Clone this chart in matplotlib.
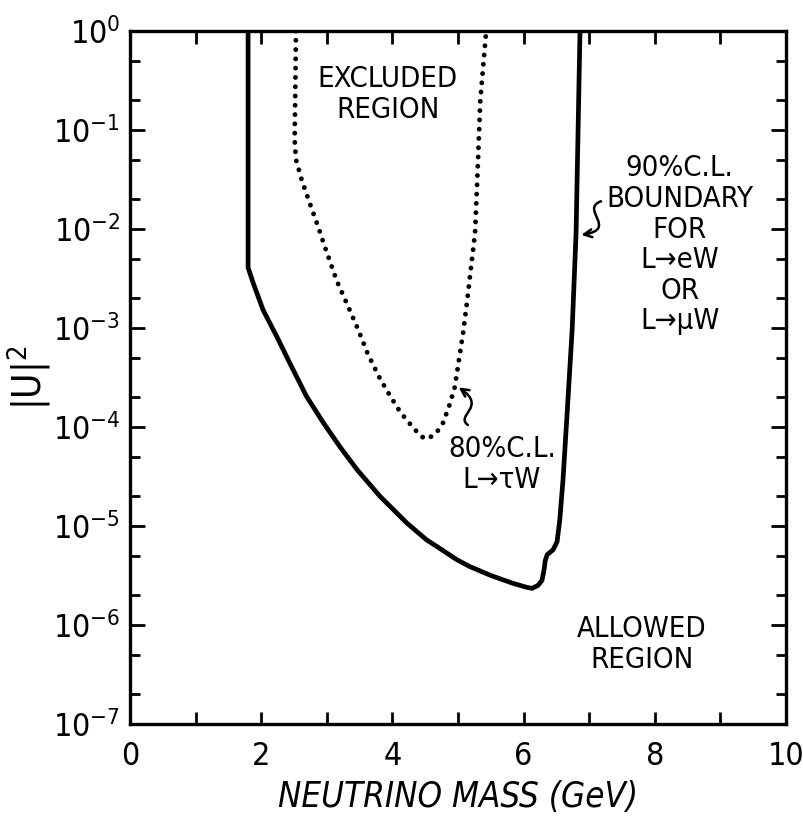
import numpy as np
import matplotlib
matplotlib.use("Agg")
import matplotlib.pyplot as plt
from matplotlib.path import Path
from matplotlib.patches import FancyArrowPatch

plt.rcParams['font.family'] = ['DejaVu Sans']
plt.rcParams['font.stretch'] = 'condensed'
plt.rcParams['mathtext.fontset'] = 'custom'
plt.rcParams['mathtext.rm'] = 'DejaVu Sans:stretch=condensed'
plt.rcParams['mathtext.it'] = 'DejaVu Sans:stretch=condensed'

# 90% C.L. boundary (L -> eW or L -> muW), log10 |U|^2
mass_90 = [1.80, 1.80, 1.88, 2.03, 2.24, 2.44, 2.69, 2.95, 3.20, 3.46, 3.81, 4.22,
           4.52, 4.73, 4.98, 5.18, 5.50, 5.84, 6.05, 6.13, 6.22, 6.28, 6.31, 6.33,
           6.36, 6.45, 6.51, 6.55, 6.60, 6.66, 6.74, 6.80, 6.86]
logu_90 = [0.0, -2.39, -2.55, -2.82, -3.09, -3.36, -3.69, -3.96, -4.20, -4.43, -4.70, -4.97,
           -5.14, -5.23, -5.34, -5.41, -5.50, -5.58, -5.62, -5.63, -5.60, -5.55, -5.45, -5.35,
           -5.29, -5.24, -5.16, -4.95, -4.54, -3.90, -3.02, -2.04, 0.0]

# 80% C.L. boundary (L -> tau W)
mass_80 = [2.53, 2.52, 2.51, 2.53, 2.62, 2.74, 2.87, 2.97, 3.15, 3.33, 3.48, 3.63,
           3.81, 3.96, 4.12, 4.32, 4.45, 4.54, 4.67, 4.77, 4.86, 4.95, 5.02, 5.08,
           5.14, 5.20, 5.26, 5.30, 5.34, 5.43]
logu_80 = [0.0, -0.60, -1.10, -1.30, -1.51, -1.74, -1.98, -2.18, -2.52, -2.79, -3.02, -3.27,
           -3.51, -3.68, -3.85, -4.01, -4.10, -4.12, -4.06, -3.96, -3.80, -3.60, -3.30, -3.04,
           -2.72, -2.38, -2.04, -1.40, -0.70, 0.0]

y_exps = [0, -1, -2, -3, -4, -5, -6, -7]
x_ticks = [0, 2, 4, 6, 8, 10]

fig = plt.figure(figsize=(8.04, 8.31), dpi=100)
ax = fig.add_axes([0.1617, 0.1288, 0.8159, 0.8339])

ax.plot(mass_90, 10.0 ** np.array(logu_90), color='black', lw=3.4,
        solid_joinstyle='round', solid_capstyle='butt')
ax.plot(mass_80, 10.0 ** np.array(logu_80), color='black', lw=3.5,
        linestyle=(0, (0.01, 1.9)), dash_capstyle='round')

ax.set_yscale('log')
ax.set_xlim(0, 10)
ax.set_ylim(1e-7, 1e0)

ax.set_xticks(x_ticks)
ax.set_xticks(np.arange(0, 11, 1), minor=True)
ax.set_xticklabels([str(t) for t in x_ticks], fontsize=23)
ax.set_yticks([10.0 ** e for e in y_exps])
ax.set_yticklabels(['$10^{%d}$' % e for e in y_exps], fontsize=23)
minor_y = [m * 10.0 ** e for e in range(-7, 0) for m in (2, 5)]
ax.set_yticks(minor_y, minor=True)
ax.set_yticklabels([], minor=True)

ax.tick_params(which='both', direction='in', top=True, right=True, width=2, color='black')
ax.tick_params(axis='y', which='major', length=11, pad=7)
ax.tick_params(axis='y', which='minor', length=7)
ax.tick_params(axis='x', which='both', length=9, pad=12)
for s in ax.spines.values():
    s.set_linewidth(2.4)

ax.set_xlabel('NEUTRINO MASS (GeV)', fontsize=25, style='italic', labelpad=6)
ax.set_ylabel('$|U|^2$', fontsize=28, labelpad=0)

txt = dict(ha='center', va='center', fontsize=21, linespacing=1.12)
ax.text(3.93, 10 ** -0.64, 'EXCLUDED\nREGION', **txt)
ax.text(8.38, 10 ** -2.16, '90%C.L.\nBOUNDARY\nFOR\nL→eW\nOR\nL→μW', **txt)
ax.text(5.67, 10 ** -4.38, '80%C.L.\nL→τW', **txt)
ax.text(7.80, 10 ** -6.20, 'ALLOWED\nREGION', **txt)

# small squiggly arrows pointing at the two curves
squiggles = [
    [(7.18, -1.72), (6.85, -1.80), (7.45, -2.00), (6.88, -2.06)],
    [(5.15, -3.98), (4.95, -3.88), (5.45, -3.80), (5.01, -3.60)],
]
for pts in squiggles:
    verts = [(x, 10 ** y) for x, y in pts]
    p = Path(verts, [Path.MOVETO, Path.CURVE4, Path.CURVE4, Path.CURVE4])
    ax.add_patch(FancyArrowPatch(path=p, arrowstyle='->', mutation_scale=14,
                                 lw=1.8, color='black'))

fig.savefig('out.png', dpi=100)
